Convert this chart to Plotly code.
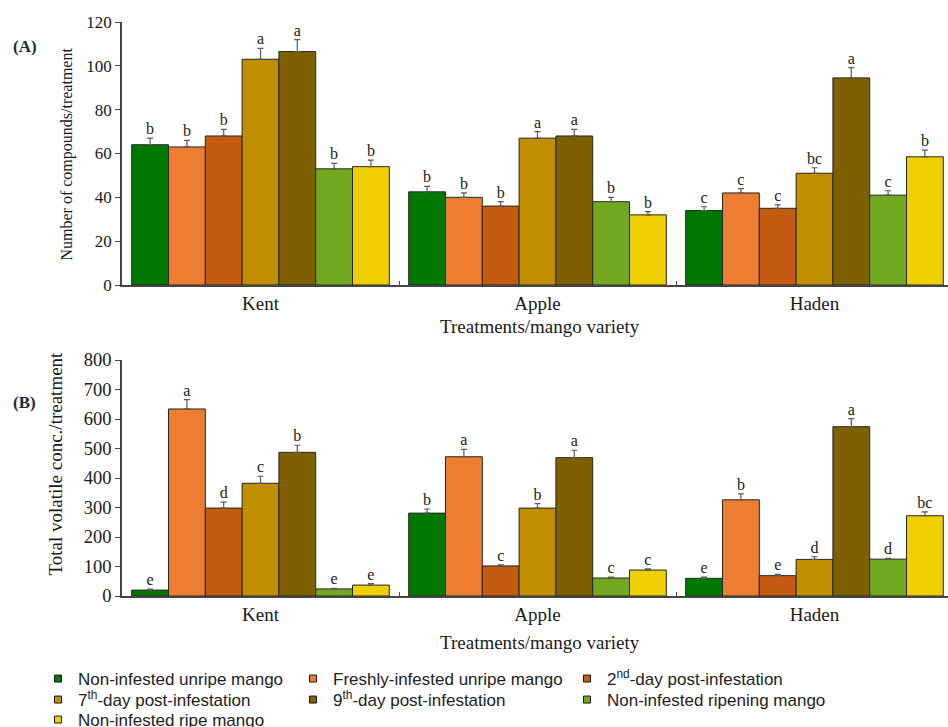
import plotly.graph_objects as go

# Mango varieties (x categories) and treatments (one bar per treatment)
varieties = ["Kent", "Apple", "Haden"]
treatments = [
    "Non-infested unripe mango",
    "Freshly-infested unripe mango",
    "2<sup>nd</sup>-day post-infestation",
    "7<sup>th</sup>-day post-infestation",
    "9<sup>th</sup>-day post-infestation",
    "Non-infested ripening mango",
    "Non-infested ripe mango",
]
colors = ["#007800", "#ED7D31", "#C55A11", "#BF8F00", "#7F6000", "#70A820", "#F0CF00"]

# (A) Number of compounds per treatment: rows follow treatments, columns follow varieties
compounds_mean = [
    [64, 42.5, 34],
    [63, 40, 42],
    [68, 36, 35],
    [103, 67, 51],
    [106.5, 68, 94.5],
    [53, 38, 41],
    [54, 32, 58.5],
]
compounds_se = [
    [3, 2.5, 1.7],
    [3, 2, 2],
    [3, 2, 1.6],
    [5, 3, 2.5],
    [5.5, 3, 4.7],
    [2.5, 2, 2],
    [3, 1.5, 3],
]
compounds_letters = [
    ["b", "b", "c"],
    ["b", "b", "c"],
    ["b", "b", "c"],
    ["a", "a", "bc"],
    ["a", "a", "a"],
    ["b", "b", "c"],
    ["b", "b", "b"],
]

# (B) Total volatile concentration per treatment
volatile_mean = [
    [20, 281, 60],
    [634, 472, 326],
    [298, 102, 69],
    [382, 298, 124],
    [487, 469, 574],
    [24, 61, 125],
    [37, 88, 272],
]
volatile_se = [
    [3, 14, 4],
    [32, 25, 20],
    [20, 4, 4],
    [24, 15, 9],
    [24, 25, 27],
    [2, 3, 3],
    [5, 4, 13],
]
volatile_letters = [
    ["e", "b", "e"],
    ["a", "a", "b"],
    ["d", "c", "e"],
    ["c", "b", "d"],
    ["b", "a", "a"],
    ["e", "c", "d"],
    ["e", "c", "bc"],
]

W, H = 948, 727
SERIF = "Liberation Serif, Times New Roman, serif"
SANS = "Liberation Sans, Arial, sans-serif"
TEXT = "#1a1a1a"
AXIS = "#444444"

panels = [
    (compounds_mean, compounds_se, compounds_letters, "x", "y"),
    (volatile_mean, volatile_se, volatile_letters, "x2", "y2"),
]

fig = go.Figure()
for i, name in enumerate(treatments):
    for mean, se, letters, xa, ya in panels:
        fig.add_bar(
            x=varieties, y=mean[i],
            error_y=dict(type="data", array=se[i], arrayminus=[0] * len(se[i]),
                         symmetric=False, color="#5a5a5a", thickness=1.2, width=3),
            marker=dict(color=colors[i], line=dict(color="#262626", width=1)),
            offsetgroup=f"t{i}", xaxis=xa, yaxis=ya,
            showlegend=False, hoverinfo="skip",
        )
        # significance letters sit just above each error bar
        fig.add_scatter(
            x=varieties, y=[m + s for m, s in zip(mean[i], se[i])],
            mode="text", text=letters[i], textposition="top center",
            textfont=dict(family=SERIF, size=16, color=TEXT),
            offsetgroup=f"t{i}", xaxis=xa, yaxis=ya,
            showlegend=False, hoverinfo="skip",
        )

# Legend entries: one small legend per entry, laid out in three columns
legend_cols = [0, 1, 2, 0, 1, 2, 0]
legend_rows = [0, 0, 0, 1, 1, 1, 2]
col_text_x = [78, 333, 607]
row_y = [679, 700, 720]
legend_layout = {}
for i, name in enumerate(treatments):
    key = "legend" if i == 0 else f"legend{i + 1}"
    fig.add_scatter(
        x=[None], y=[None], mode="markers", name=name,
        marker=dict(symbol="square", size=7, color=colors[i],
                    line=dict(color="#1a1a1a", width=1)),
        xaxis="x3", yaxis="y3", legend=key, showlegend=True,
    )
    legend_layout[key] = dict(
        x=(col_text_x[legend_cols[i]] - 40) / W, xanchor="left",
        y=1 - row_y[legend_rows[i]] / H, yanchor="middle",
        font=dict(family=SANS, size=17, color="#222222"),
        bgcolor="rgba(0,0,0,0)", borderwidth=0,
    )

x_dom = [122 / W, 1.0]
band_px = 277.0
x_range = [-0.5, -0.5 + (W - 122) / band_px]

xaxis_common = dict(
    domain=x_dom, range=x_range, type="category",
    tickson="boundaries", ticks="inside", ticklen=4, tickcolor=AXIS, tickwidth=1,
    showline=True, linecolor=AXIS, linewidth=1.5,
    showgrid=False, zeroline=False,
    tickfont=dict(family=SERIF, size=19, color=TEXT),
)
yaxis_common = dict(
    ticks="outside", ticklen=5, tickcolor=AXIS, tickwidth=1,
    showline=True, linecolor=AXIS, linewidth=1.5,
    showgrid=False, zeroline=False,
)

fig.update_layout(
    width=W, height=H,
    margin=dict(l=0, r=0, t=0, b=0, autoexpand=False),
    paper_bgcolor="white", plot_bgcolor="white",
    barmode="group", bargap=0.07, bargroupgap=0,
    scattermode="group", scattergap=0.07,
    xaxis=dict(anchor="y", **xaxis_common),
    yaxis=dict(anchor="x", domain=[1 - 285 / H, 1 - 22 / H], range=[0, 120], dtick=20,
               tickfont=dict(family=SERIF, size=17, color=TEXT), **yaxis_common),
    xaxis2=dict(anchor="y2", **xaxis_common),
    yaxis2=dict(anchor="x2", domain=[1 - 596 / H, 1 - 360 / H], range=[0, 800], dtick=100,
                tickfont=dict(family=SERIF, size=18.5, color=TEXT), **yaxis_common),
    xaxis3=dict(domain=[0, 0.01], visible=False, anchor="y3"),
    yaxis3=dict(domain=[0, 0.01], visible=False, anchor="x3"),
    showlegend=True,
    **legend_layout,
)

annotations = [
    dict(text="<b>(A)</b>", x=25 / W, y=1 - 47 / H, font=dict(family=SERIF, size=17, color="#1f2a44")),
    dict(text="<b>(B)</b>", x=24.5 / W, y=1 - 402 / H, font=dict(family=SERIF, size=17, color="#1f2a44")),
    dict(text="Number of compounds/treatment", x=66 / W, y=1 - 154.5 / H, textangle=-90,
         font=dict(family=SERIF, size=16, color=TEXT)),
    dict(text="Total volatile conc./treatment", x=55 / W, y=1 - 463.5 / H, textangle=-90,
         font=dict(family=SERIF, size=19, color=TEXT)),
    dict(text="Treatments/mango variety", x=539.5 / W, y=1 - 327 / H,
         font=dict(family=SERIF, size=19, color=TEXT)),
    dict(text="Treatments/mango variety", x=539.5 / W, y=1 - 642 / H,
         font=dict(family=SERIF, size=19, color=TEXT)),
]
for a in annotations:
    a.update(xref="paper", yref="paper", xanchor="center", yanchor="middle", showarrow=False)
fig.update_layout(annotations=annotations)

fig.write_html("out.html")
